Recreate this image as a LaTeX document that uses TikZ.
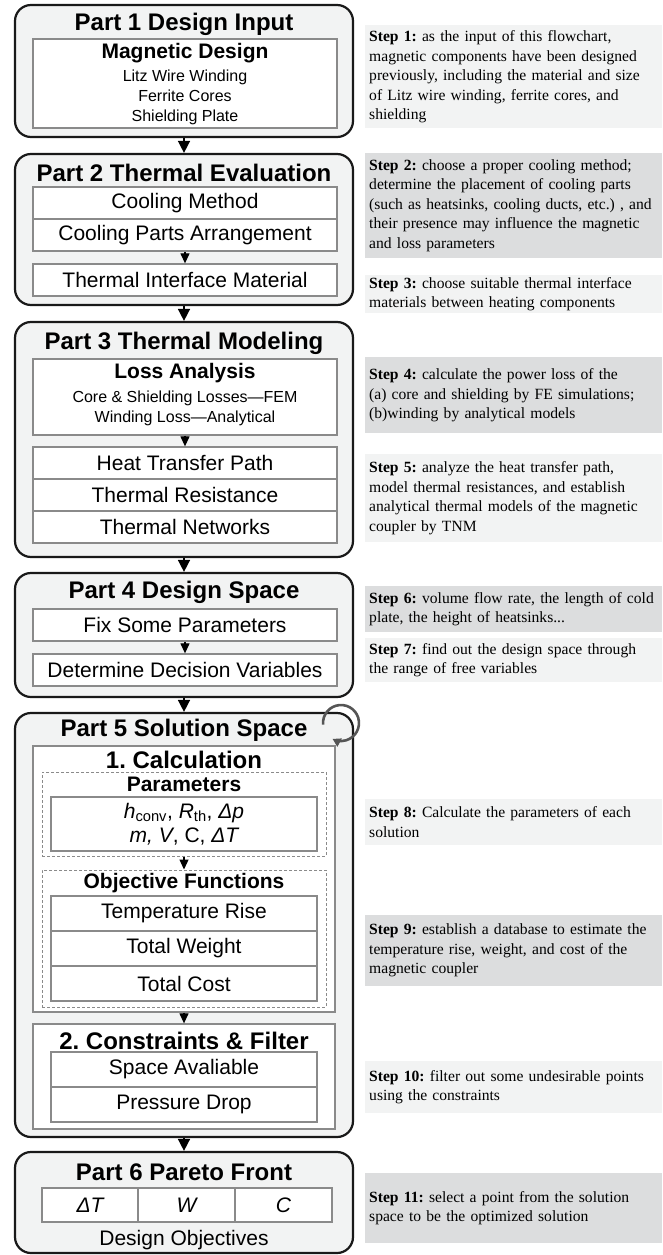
\documentclass[tikz,border=0pt]{standalone}
\usepackage{fontspec}
\setmainfont{Liberation Serif}
\newfontfamily\arial{Liberation Sans}
\usetikzlibrary{arrows.meta}
\definecolor{partfill}{HTML}{F2F3F3}
\definecolor{steplight}{HTML}{F2F3F3}
\definecolor{stepdark}{HTML}{DCDDDE}
\definecolor{boxline}{HTML}{8A8A8A}
\definecolor{loopgray}{HTML}{555555}

\begin{document}
\frenchspacing
\begin{tikzpicture}[x=1pt, y=-1pt,
    part/.style={draw=black!90, line width=2.2pt, fill=partfill, rounded corners=16pt, minimum width=338pt, inner sep=0pt},
    item/.style={draw=boxline, line width=1.3pt, fill=white, minimum width=304pt, minimum height=32pt, inner sep=0pt, font=\arial\fontsize{21}{25}\selectfont},
    dbox/.style={draw=boxline, line width=1pt, dash pattern=on 3pt off 2pt, minimum width=284pt, inner sep=0pt},
    ptitle/.style={inner sep=0pt, font=\arial\bfseries\fontsize{24}{28}\selectfont},
    sub/.style={inner sep=0pt, font=\arial\bfseries\fontsize{21}{25}\selectfont},
    minor/.style={inner sep=0pt, align=center, font=\arial\fontsize{16}{20}\selectfont},
    stepbox/.style={anchor=north west, fill=#1, text width=289pt, inner xsep=4pt, inner ysep=0pt, align=left, font=\fontsize{15.6}{19.5}\selectfont},
    flow/.style={-{Triangle[width=12pt,length=12pt]}, line width=1.5pt},
    sflow/.style={-{Triangle[width=9pt,length=10pt]}, line width=1.2pt}]
    \useasboundingbox (0,0) rectangle (663,1255);

    % Part 1 - design input
    \node[part, minimum height=132pt] (p1) at (184,71) {};
    \node[ptitle] (p1t) at (184,24) {Part 1 Design Input};
    \node[item, minimum height=89pt] (mag) at (185,83.5) {};
    \node[sub] (magt) at (185,53) {Magnetic Design};
    \node[minor] (magl) at (185,97) {Litz Wire Winding\\Ferrite Cores\\Shielding Plate};

    % Part 2 - thermal evaluation
    \node[part, minimum height=151pt] (p2) at (184,229.5) {};
    \node[ptitle] (p2t) at (184,173) {Part 2 Thermal Evaluation};
    \node[item] (cm) at (185,203) {Cooling Method};
    \node[item] (cpa) at (185,235) {Cooling Parts Arrangement};
    \node[item] (tim) at (185,280) {Thermal Interface Material};
    \draw[sflow] (cpa.south) -- (tim.north);

    % Part 3 - thermal modeling
    \node[part, minimum height=235pt] (p3) at (184,439.5) {};
    \node[ptitle] (p3t) at (184,343) {Part 3 Thermal Modeling};
    \node[item, minimum height=76pt] (loss) at (185,397) {};
    \node[sub] (losst) at (185,373) {Loss Analysis};
    \node[minor] (lossl) at (185,408) {Core \& Shielding Losses—FEM\\Winding Loss—Analytical};
    \node[item] (htp) at (185,463) {Heat Transfer Path};
    \node[item] (tr) at (185,495) {Thermal Resistance};
    \node[item] (tn) at (185,527) {Thermal Networks};
    \draw[sflow] (loss.south) -- (htp.north);

    % Part 4 - design space
    \node[part, minimum height=124pt] (p4) at (184,635) {};
    \node[ptitle] (p4t) at (184,592) {Part 4 Design Space};
    \node[item] (fix) at (185,625) {Fix Some Parameters};
    \node[item] (det) at (185,670) {Determine Decision Variables};
    \draw[sflow] (fix.south) -- (det.north);

    % Part 5 - solution space
    \node[part, minimum height=424pt] (p5) at (184,925) {};
    \node[ptitle] (p5t) at (184,730) {Part 5 Solution Space};
    \node[item, minimum width=302pt, minimum height=266pt] (calc) at (184,879) {};
    \node[ptitle] (calct) at (184,760) {1. Calculation};
    \node[dbox, minimum height=84pt] (pard) at (184,814) {};
    \node[sub] (part) at (184,784) {Parameters};
    \node[item, minimum width=266pt, minimum height=54pt, align=center] (par) at (184,824)
        {{\itshape h}\textsubscript{conv}, {\itshape R}\textsubscript{th}, {\itshape Δp}\\[-1pt]{\itshape m, V}, C, {\itshape ΔT}};
    \node[dbox, minimum height=137pt] (objd) at (184,938.5) {};
    \node[sub] (objt) at (184,883) {Objective Functions};
    \node[item, minimum width=266pt, minimum height=35pt] (rise) at (184,913.5) {Temperature Rise};
    \node[item, minimum width=266pt, minimum height=35pt] (wgt) at (184,948.5) {Total Weight};
    \node[item, minimum width=266pt, minimum height=35pt] (cost) at (184,983.5) {Total Cost};
    \draw[sflow] (pard.south) -- (objd.north);
    \node[item, minimum width=302pt, minimum height=105pt] (cons) at (184,1076.5) {};
    \node[ptitle] (const) at (184,1041) {2. Constraints \& Filter};
    \node[item, minimum width=266pt, minimum height=35pt] (spc) at (184,1069.5) {Space Avaliable};
    \node[item, minimum width=266pt, minimum height=35pt] (pd) at (184,1104.5) {Pressure Drop};
    \draw[sflow] (calc.south) -- (cons.north);
    % loop back arrow
    \coordinate (loop) at (341,723);
    \draw[loopgray, line width=2.6pt, -{Triangle[width=9pt,length=8pt]}] (loop) ++(185:18pt) arc[start angle=185, end angle=-118, radius=18pt];

    % Part 6 - pareto front
    \node[part, minimum height=101pt] (p6) at (184,1202.5) {};
    \node[ptitle] (p6t) at (184,1172) {Part 6 Pareto Front};
    \foreach \x/\w/\t/\n in {90/96/ΔT/o1, 186.5/97/W/o2, 283.5/97/C/o3}
        \node[item, minimum width=\w pt, minimum height=34pt] (\n) at (\x,1205) {\itshape \t};
    \node[item, draw=none, fill=none] (obj) at (184,1240) {Design Objectives};

    % Flow between parts
    \draw[flow] (p1.south) -- (p2.north);
    \draw[flow] (p2.south) -- (p3.north);
    \draw[flow] (p3.south) -- (p4.north);
    \draw[flow] (p4.south) -- (p5.north);
    \draw[flow] (p5.south) -- (p6.north);

    % Step notes
    \node[stepbox=steplight, minimum height=103pt] (s1) at (365,25)
        {\textbf{Step 1:} as the input of this flowchart,\\ magnetic components have been designed\\ previously, including the material and size\\ of Litz wire winding, ferrite cores, and\\ shielding};
    \node[stepbox=stepdark, minimum height=105pt] (s2) at (365,153)
        {\textbf{Step 2:} choose a proper cooling method;\\ determine the placement of cooling parts\\ (such as heatsinks, cooling ducts, etc.) , and\\ their presence may influence the magnetic\\ and loss parameters};
    \node[stepbox=steplight, minimum height=38pt] (s3) at (365,275)
        {\textbf{Step 3:} choose suitable thermal interface\\ materials between heating components};
    \node[stepbox=stepdark, minimum height=76pt] (s4) at (365,357)
        {\textbf{Step 4:} calculate the power loss of the\\ (a) core and shielding by FE simulations;\\ (b)winding by analytical models};
    \node[stepbox=steplight, minimum height=88pt] (s5) at (365,454)
        {\textbf{Step 5:} analyze the heat transfer path,\\ model thermal resistances, and establish\\ analytical thermal models of the magnetic\\ coupler by TNM};
    \node[stepbox=stepdark, minimum height=46pt] (s6) at (365,586)
        {\textbf{Step 6:} volume flow rate, the length of cold\\ plate, the height of heatsinks...};
    \node[stepbox=steplight, minimum height=44pt] (s7) at (365,638)
        {\textbf{Step 7:} find out the design space through\\ the range of free variables};
    \node[stepbox=steplight, minimum height=46pt] (s8) at (365,799)
        {\textbf{Step 8:} Calculate the parameters of each\\ solution};
    \node[stepbox=stepdark, minimum height=71pt] (s9) at (365,915)
        {\textbf{Step 9:} establish a database to estimate the\\ temperature rise, weight, and cost of the\\ magnetic coupler};
    \node[stepbox=steplight, minimum height=52pt] (s10) at (365,1061)
        {\textbf{Step 10:} filter out some undesirable points\\ using the constraints};
    \node[stepbox=stepdark, minimum height=70pt] (s11) at (365,1173)
        {\textbf{Step 11:} select a point from the solution\\ space to be the optimized solution};
\end{tikzpicture}
\end{document}
